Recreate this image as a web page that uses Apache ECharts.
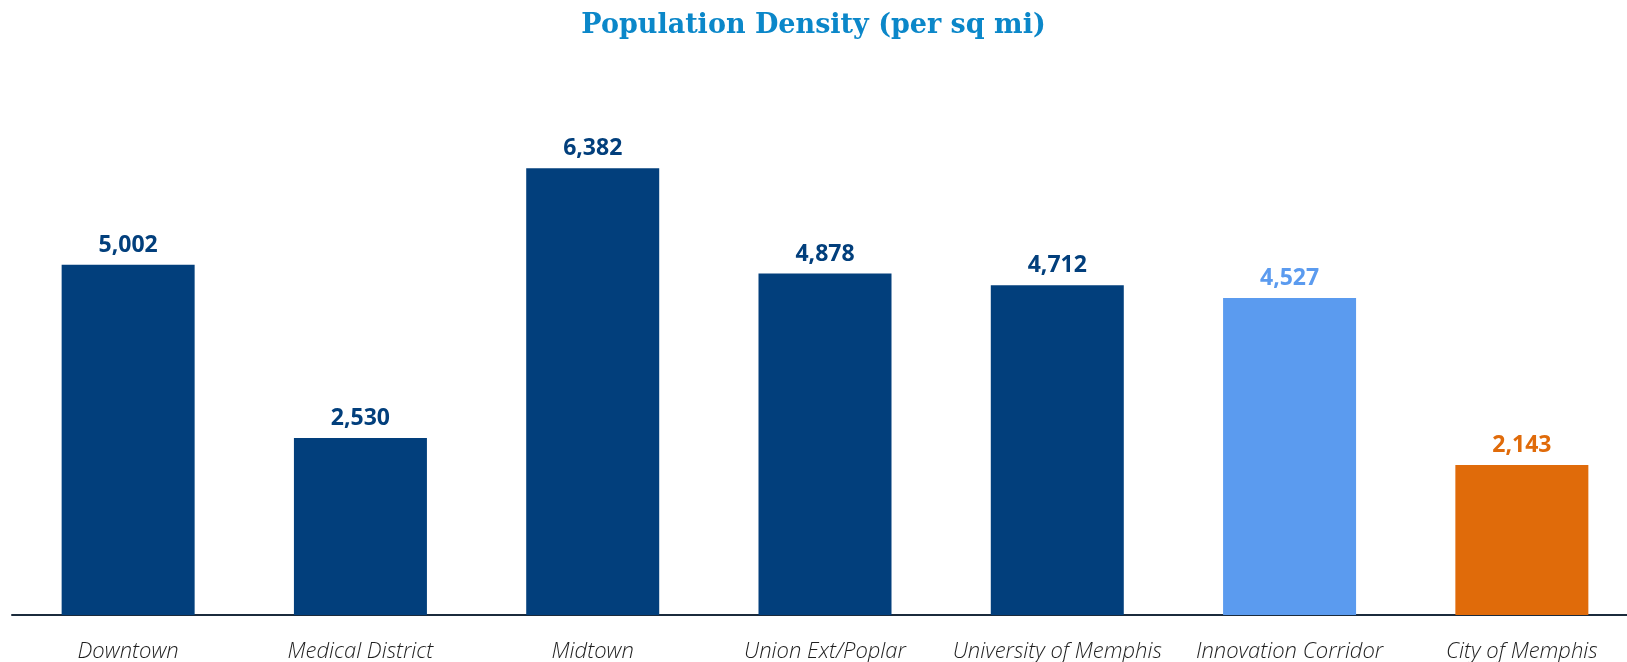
<!DOCTYPE html>
<html>
<head>
<meta charset="utf-8">
<style>
  html, body { margin: 0; padding: 0; background: #fff; }
  #chart { width: 1627px; height: 662px; }
</style>
<script src="https://cdn.jsdelivr.net/npm/echarts@6/dist/echarts.min.js"></script>
</head>
<body>
<div id="chart"></div>
<script>
// categories and values
var areas = ['Downtown', 'Medical District', 'Midtown', 'Union Ext/Poplar',
             'University of Memphis', 'Innovation Corridor', 'City of Memphis'];
var density = [5002, 2530, 6382, 4878, 4712, 4527, 2143];
var barColors = ['#023f7c', '#023f7c', '#023f7c', '#023f7c', '#023f7c', '#5b9bef', '#e06b0a'];

var chart = echarts.init(document.getElementById('chart'));

var option = {
    title: {
        text: 'Population Density (per sq mi)',
        left: 'center',
        top: 7,
        textStyle: {
            fontFamily: 'DejaVu Serif',
            fontWeight: 'bold',
            fontSize: 27,
            color: '#0b87c9'
        }
    },
    grid: {
        left: 12,
        width: 1626,
        top: 55,
        bottom: 47,
        outerBoundsMode: 'none',
        containLabel: false
    },
    xAxis: {
        type: 'category',
        data: areas,
        axisLine: { lineStyle: { color: '#1b2b3c', width: 2 } },
        axisTick: { show: false },
        axisLabel: {
            interval: 0,
            margin: 26,
            fontFamily: 'Open Sans',
            fontStyle: 'italic',
            fontWeight: 300,
            fontSize: 22,
            color: '#1e1e1e'
        }
    },
    yAxis: {
        type: 'value',
        min: 0,
        max: 8000,
        show: false,
        splitLine: { show: false }
    },
    series: [{
        type: 'bar',
        barWidth: 133,
        data: density.map(function (v, i) {
            return {
                value: v,
                itemStyle: { color: barColors[i] },
                label: { color: barColors[i] }
            };
        }),
        label: {
            show: true,
            position: 'top',
            distance: 8,
            fontFamily: 'Open Sans',
            fontWeight: 'bold',
            fontSize: 23,
            formatter: function (p) { return p.value.toLocaleString('en-US'); }
        }
    }]
};

chart.setOption(option);

window.addEventListener('resize', function () {
    chart.resize();
});
</script>
</body>
</html>
